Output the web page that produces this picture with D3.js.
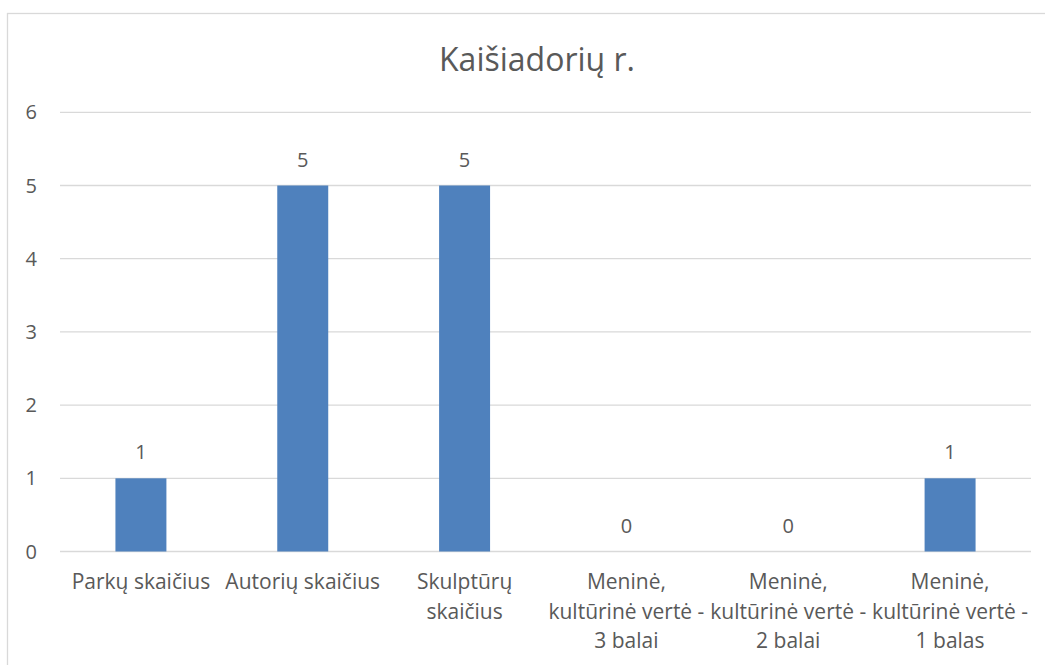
<!DOCTYPE html>
<html><head><meta charset="utf-8">
<script src="https://cdn.jsdelivr.net/npm/d3@7"></script>
<style>html,body{margin:0;padding:0;background:#fff;}svg{display:block;}</style>
</head><body>
<script>
const title = "Kaišiadorių r.";
const categories = ["Parkų skaičius","Autorių skaičius","Skulptūrų\nskaičius","Meninė,\nkultūrinė vertė -\n3 balai","Meninė,\nkultūrinė vertė -\n2 balai","Meninė,\nkultūrinė vertė -\n1 balas"];
const values = [1,5,5,0,0,1];
const yTicks = [0,1,2,3,4,5,6];

const W=1045,H=665;
const font = "'Open Sans', sans-serif";
const txt = "#595959";
const svg = d3.select("body").append("svg").attr("width",W).attr("height",H);
svg.append("rect").attr("x",7.5).attr("y",13.5).attr("width",W).attr("height",H).attr("fill","#fff").attr("stroke","#d9d9d9").attr("stroke-width",1.3);

const x = d3.scaleBand().domain(categories).range([60,1031]).padding(0);
const y = d3.scaleLinear().domain([0,6]).range([551.5,112.3]);

svg.append("text").attr("x",537).attr("y",60).attr("dy","0.35em").attr("text-anchor","middle").attr("font-family",font).attr("font-size",32).attr("fill",txt).text(title);

const grid = svg.append("g");
grid.selectAll("line").data(yTicks).join("line")
  .attr("x1",60).attr("x2",1031).attr("y1",d=>y(d)).attr("y2",d=>y(d))
  .attr("stroke","#d9d9d9").attr("stroke-width",1.3);

svg.append("g").selectAll("text").data(yTicks).join("text")
  .attr("x",37).attr("y",d=>y(d)).attr("dy","0.35em").attr("text-anchor","end")
  .attr("font-family",font).attr("font-size",20).attr("fill",txt).text(d=>d);

const bw = x.bandwidth()*0.315;
svg.append("g").selectAll("rect").data(values).join("rect")
  .attr("x",(d,i)=>x(categories[i])+x.bandwidth()/2-bw/2)
  .attr("width",bw)
  .attr("y",d=>y(d)).attr("height",d=>y(0)-y(d))
  .attr("fill","#4f81bd");

svg.append("g").selectAll("text").data(values).join("text")
  .attr("x",(d,i)=>x(categories[i])+x.bandwidth()/2)
  .attr("y",d=>y(d)-26).attr("dy","0.35em")
  .attr("text-anchor","middle").attr("font-family",font).attr("font-size",20).attr("fill",txt).text(d=>d);

const cl = svg.append("g").selectAll("text").data(categories).join("text")
  .attr("text-anchor","middle").attr("font-family",font).attr("font-size",21).attr("fill",txt)
  .attr("x",d=>x(d)+x.bandwidth()/2).attr("y",589);
cl.each(function(d){
  const t=d3.select(this);
  d.split("\n").forEach((s,i)=>t.append("tspan").attr("x",x(d)+x.bandwidth()/2).attr("y",589+i*29.5).text(s));
});
</script>
</body></html>
